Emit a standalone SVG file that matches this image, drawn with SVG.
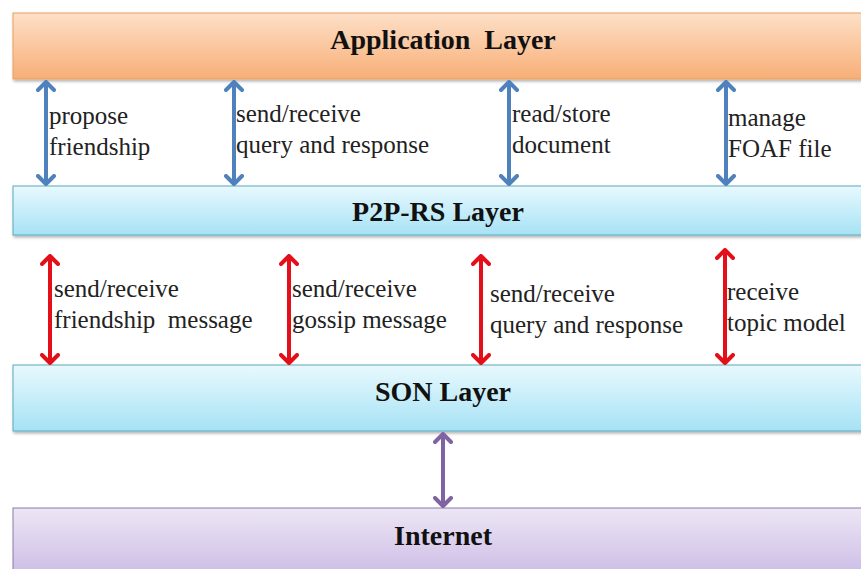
<svg xmlns="http://www.w3.org/2000/svg" width="861" height="569" viewBox="0 0 861 569">
<defs>
<linearGradient id="gApp" x1="0" y1="0" x2="0" y2="1"><stop offset="0" stop-color="#fde0c8"/><stop offset="1" stop-color="#f8ae76"/></linearGradient>
<linearGradient id="gBlue" x1="0" y1="0" x2="0" y2="1"><stop offset="0" stop-color="#e8f9fe"/><stop offset="1" stop-color="#a6e2f5"/></linearGradient>
<linearGradient id="gPur" x1="0" y1="0" x2="0" y2="1"><stop offset="0" stop-color="#ede6f5"/><stop offset="1" stop-color="#cbbbe5"/></linearGradient>
<filter id="sh" x="-5%" y="-20%" width="110%" height="150%"><feDropShadow dx="1" dy="2" stdDeviation="1.5" flood-color="#000" flood-opacity="0.3"/></filter>
<marker id="mB" viewBox="0 0 12 20" refX="10" refY="10" markerWidth="12" markerHeight="20" markerUnits="userSpaceOnUse" orient="auto-start-reverse"><path d="M2,2 L10,10 L2,18" fill="none" stroke="#4f81bd" stroke-width="4" stroke-linecap="round" stroke-linejoin="round"/></marker>
<marker id="mR" viewBox="0 0 12 20" refX="10" refY="10" markerWidth="12" markerHeight="20" markerUnits="userSpaceOnUse" orient="auto-start-reverse"><path d="M2,2 L10,10 L2,18" fill="none" stroke="#e3101a" stroke-width="4" stroke-linecap="round" stroke-linejoin="round"/></marker>
<marker id="mP" viewBox="0 0 12 20" refX="10" refY="10" markerWidth="12" markerHeight="20" markerUnits="userSpaceOnUse" orient="auto-start-reverse"><path d="M2,2 L10,10 L2,18" fill="none" stroke="#8064a2" stroke-width="4" stroke-linecap="round" stroke-linejoin="round"/></marker>
</defs>
<style>
.title{font-weight:bold;font-size:28px;fill:#111;text-anchor:middle}
.lbl{font-size:25px;fill:#222}
.ab{stroke:#4f81bd;stroke-width:4;fill:none;marker-start:url(#mB);marker-end:url(#mB)}
.ar{stroke:#e3101a;stroke-width:4;fill:none;marker-start:url(#mR);marker-end:url(#mR)}
.ap{stroke:#8064a2;stroke-width:4;fill:none;marker-start:url(#mP);marker-end:url(#mP)}
</style>
<rect width="861" height="569" fill="#fff"/>
<g font-family="Liberation Serif, serif">
<g id="app"><rect x="13" y="13" width="860" height="66" fill="url(#gApp)" stroke="#e8a060" stroke-width="1" filter="url(#sh)"/><text class="title" x="443" y="49" xml:space="preserve">Application  Layer</text></g>
<g id="p2p"><rect x="13" y="186" width="860" height="49" fill="url(#gBlue)" stroke="#5aaabb" stroke-width="1" filter="url(#sh)"/><text class="title" x="438" y="221">P2P-RS Layer</text></g>
<g id="son"><rect x="13" y="365" width="860" height="66" fill="url(#gBlue)" stroke="#5aaabb" stroke-width="1" filter="url(#sh)"/><text class="title" x="443" y="401">SON Layer</text></g>
<g id="internet"><rect x="13" y="508" width="860" height="70" fill="url(#gPur)" stroke="#8a7aa8" stroke-width="1"/><text class="title" x="443" y="545">Internet</text></g>
<g id="connectors">
<line class="ab" x1="46" y1="82" x2="46" y2="184"/>
<line class="ab" x1="234" y1="82" x2="234" y2="184"/>
<line class="ab" x1="509" y1="82" x2="509" y2="184"/>
<line class="ab" x1="726" y1="82" x2="726" y2="184"/>
<line class="ar" x1="50" y1="256" x2="50" y2="363"/>
<line class="ar" x1="289" y1="256" x2="289" y2="363"/>
<line class="ar" x1="481" y1="256" x2="481" y2="363"/>
<line class="ar" x1="725" y1="250" x2="725" y2="363"/>
<line class="ap" x1="443" y1="434" x2="443" y2="506"/>
</g>
<g id="labels">
<text class="lbl" x="49" y="124">propose</text><text class="lbl" x="49" y="155">friendship</text>
<text class="lbl" x="236" y="122">send/receive</text><text class="lbl" x="236" y="153">query and response</text>
<text class="lbl" x="512" y="122">read/store</text><text class="lbl" x="512" y="153">document</text>
<text class="lbl" x="728" y="126">manage</text><text class="lbl" x="728" y="157">FOAF file</text>
<text class="lbl" x="54" y="297">send/receive</text><text class="lbl" x="54" y="328" xml:space="preserve">friendship  message</text>
<text class="lbl" x="292" y="297">send/receive</text><text class="lbl" x="292" y="328">gossip message</text>
<text class="lbl" x="490" y="302">send/receive</text><text class="lbl" x="490" y="333">query and response</text>
<text class="lbl" x="727" y="300">receive</text><text class="lbl" x="727" y="331">topic model</text>
</g>
</g>
</svg>
